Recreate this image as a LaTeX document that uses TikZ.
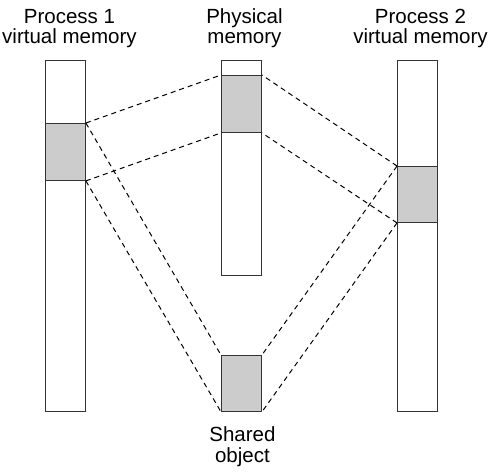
\documentclass[tikz,border=0pt]{standalone}
\usepackage{fontspec}
\setmainfont{Liberation Sans}
\usetikzlibrary{positioning}

\begin{document}
\begin{tikzpicture}[x=1pt,y=-1pt,
  mem/.style={draw=black!80, line width=0.9pt, fill=white, inner sep=0pt,
    minimum width=40pt, anchor=north west},
  block/.style={mem, fill=black!20},
  mapping/.style={dash pattern=on 5pt off 4pt, line width=1pt},
  caption/.style={align=center, inner sep=0pt, font=\fontsize{20.5}{20.5}\selectfont}]
\useasboundingbox (0,0) rectangle (500,475);
% Memory bars
\node[mem, minimum height=351pt] (vm1) at (45,60) {};
\node[mem, minimum height=215pt] (pm) at (221,60) {};
\node[mem, minimum height=351pt] (vm2) at (397,60) {};
% Mapped areas
\node[block, minimum height=57pt] (area1) at (45,123) {};
\node[block, minimum height=57pt] (area) at (221,75) {};
\node[block, minimum height=56pt] (area2) at (397,166) {};
\node[block, minimum height=56pt] (obj) at (221,355) {};
% Captions
\node[caption, above=12pt of vm1, xshift=4pt] (vm1-label) {Process 1\\virtual memory};
\node[caption, above=12pt of pm, xshift=3pt] (pm-label) {Physical\\memory};
\node[caption, above=12pt of vm2, xshift=3pt] (vm2-label) {Process 2\\virtual memory};
\node[caption, below=15pt of obj, xshift=1pt] (obj-label) {Shared\\object};
% Process 1 to physical memory and shared object
\draw[mapping] (area1.north east) -- (area.north west);
\draw[mapping] (area1.south east) -- (area.south west);
\draw[mapping] (area1.north east) -- (obj.north west);
\draw[mapping] (area1.south east) -- (obj.south west);
% Process 2 to physical memory and shared object
\draw[mapping] (area2.north west) -- (area.north east);
\draw[mapping] (area2.south west) -- (area.south east);
\draw[mapping] (area2.north west) -- (obj.north east);
\draw[mapping] (area2.south west) -- (obj.south east);
\end{tikzpicture}
\end{document}
